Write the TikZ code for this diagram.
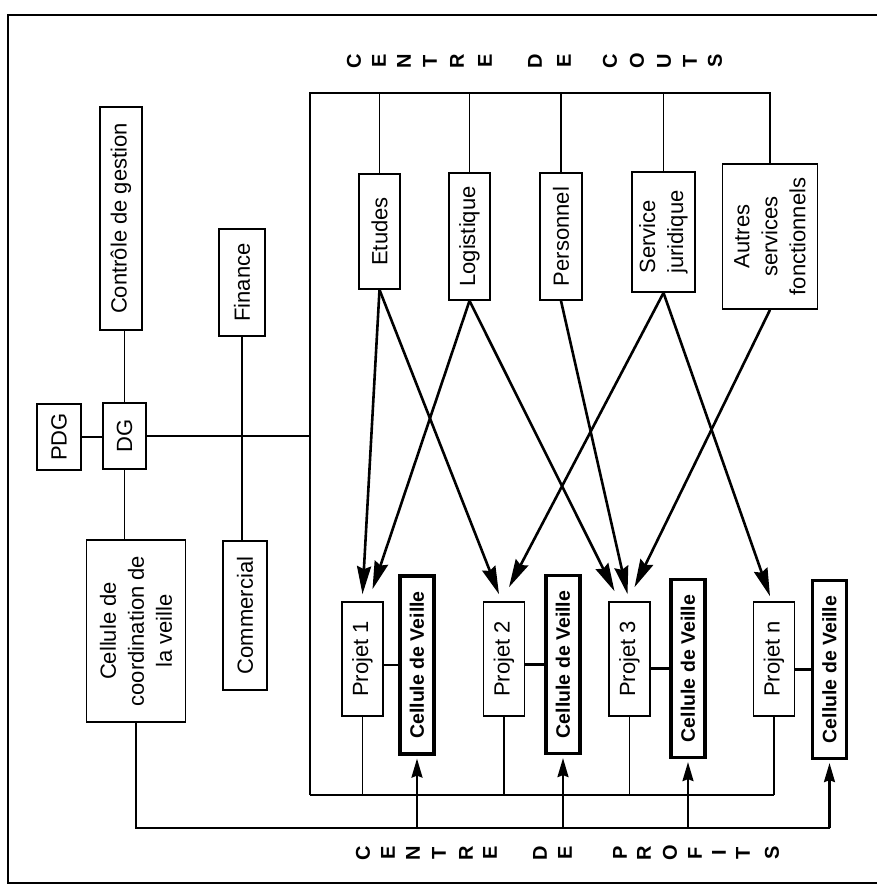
\documentclass[tikz,border=0pt]{standalone}
\usepackage{fontspec}
\setmainfont{Liberation Sans}
\usetikzlibrary{arrows.meta}

\begin{document}
\begin{tikzpicture}[x=1pt,y=-1pt,
    box/.style={draw,line width=1.6pt,rotate=90,inner sep=0pt,align=center,
      font=\fontsize{22}{28}\selectfont},
    projet/.style={box,minimum width=114pt,minimum height=41pt},
    veille/.style={box,line width=3.2pt,minimum width=178pt,minimum height=34pt,
      font=\bfseries\fontsize{19.5}{24}\selectfont},
    letter/.style={rotate=90,inner sep=0pt,font=\bfseries\fontsize{20}{20}\selectfont},
    link/.style={line width=1.6pt},
    flow/.style={line width=2.6pt,-{Stealth[length=28pt,width=14pt,inset=3pt]}},
    feed/.style={line width=2.2pt,-{Stealth[length=19pt,width=11pt,inset=2pt]},shorten >=3pt}]
  \useasboundingbox (0,0) rectangle (877,887);
  \draw[line width=2pt] (877,15) -- (8,15) -- (8,883) -- (877,883);

  % titres
  \foreach \l/\x [count=\i] in {C/354,E/379,N/404,T/430,R/457,E/485,D/535,E/564,C/610,O/637,U/664,T/690,S/715}
    \node[letter] (cout\i) at (\x,61) {\l};
  \foreach \l/\x [count=\i] in {C/363,E/388,N/413,T/439,R/466,E/490,D/540,E/565,P/620,R/644,O/670,F/695,I/719,T/743,S/772}
    \node[letter] (profit\i) at (\x,853) {\l};

  % direction
  \node[box,minimum width=223pt,minimum height=42pt] (controle) at (121,218.5) {Contrôle de gestion};
  \node[box,minimum width=66pt,minimum height=44pt] (pdg) at (59,437) {PDG};
  \node[box,minimum width=66pt,minimum height=43pt] (dg) at (124.5,436) {DG};
  \node[box,minimum width=182pt,minimum height=99pt] (coord) at (136,631) {Cellule de\\coordination de\\la veille};
  \node[box,minimum width=107pt,minimum height=46pt] (finance) at (242,282.5) {Finance};
  \node[box,minimum width=149pt,minimum height=44pt] (commercial) at (245,615.5) {Commercial};

  \draw[link] (pdg.south) -- (pdg.south -| dg.north);
  \draw[link] (dg.east) -- (dg.east |- controle.west);
  \draw[link] (dg.west) -- (dg.west |- coord.east);
  \draw[link] (finance.west) -- (finance.west |- commercial.east);

  % centres de couts
  \node[box,minimum width=115pt,minimum height=41pt] (etudes) at (379.5,231.5) {Etudes};
  \node[box,minimum width=127pt,minimum height=41pt] (logistique) at (469.5,236.5) {Logistique};
  \node[box,minimum width=127pt,minimum height=42pt] (personnel) at (561,236.5) {Personnel};
  \node[box,align=left,minimum width=120pt,minimum height=63pt] (juridique) at (663.5,232) {Service\\juridique};
  \node[box,minimum width=145pt,minimum height=95pt] (autres) at (770,236.5) {Autres\\services\\fonctionnels};

  % centres de profits
  \node[projet] (p1) at (362.5,659) {Projet 1};
  \node[projet] (p2) at (504,659) {Projet 2};
  \node[projet] (p3) at (629.5,659) {Projet 3};
  \node[projet] (pn) at (774,659) {Projet n};
  \node[veille] (c1) at (417,665) {Cellule de Veille};
  \node[veille] (c2) at (563,664.5) {Cellule de Veille};
  \node[veille] (c3) at (688,668.5) {Cellule de Veille};
  \node[veille] (cn) at (829.5,669.5) {Cellule de Veille};

  \coordinate (ctl) at (310,93);
  \coordinate (cbl) at (310,795);
  \coordinate (prof) at (0,828);
  \draw[link] (dg.south) -- (dg.south -| ctl);
  \draw[link] (cbl) -- (ctl) -- (autres.east |- ctl) -- (autres.east);
  \foreach \n in {etudes,logistique,personnel,juridique}
    \draw[link] (\n.east) -- (\n.east |- ctl);
  \draw[link] (cbl) -- (pn.west |- cbl);
  \foreach \n in {p1,p2,p3,pn}
    \draw[link] (\n.west) -- (\n.west |- cbl);
  \foreach \p/\c in {p1/c1,p2/c2,p3/c3,pn/cn}
    \draw[line width=2.4pt] (\c.north) -- (\c.north -| \p.south);

  \draw[line width=2pt] (coord.west) -- (coord.west |- prof) -- (cn.west |- prof);
  \foreach \c in {c1,c2,c3,cn}
    \draw[feed] (\c.west |- prof) -- (\c.west);

  % affectations
  \draw[flow] (etudes.west) -- ([yshift=7pt]p1.east);
  \draw[flow] (etudes.west) -- ([xshift=-5pt,yshift=7pt]p2.east);
  \draw[flow] (logistique.west) -- ([xshift=10pt,yshift=12pt]p1.east);
  \draw[flow] (logistique.west) -- ([xshift=-15pt,yshift=10pt]p3.east);
  \draw[flow] (personnel.west) -- ([xshift=-2pt,yshift=7pt]p3.east);
  \draw[flow] (juridique.west) -- ([xshift=5pt,yshift=14pt]p2.east);
  \draw[flow] (juridique.west) -- ([xshift=-4pt,yshift=5pt]pn.east);
  \draw[flow] (autres.west) -- ([xshift=5pt,yshift=14pt]p3.east);
\end{tikzpicture}
\end{document}
